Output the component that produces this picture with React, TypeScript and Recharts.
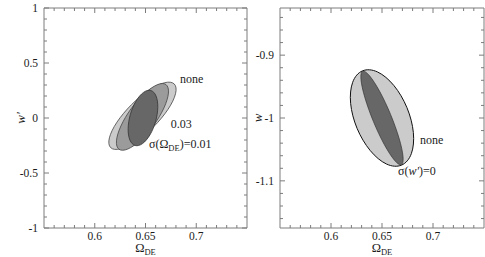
import { ScatterChart, Scatter, XAxis, YAxis } from 'recharts'

// ── data ──────────────────────────────────────────────────────
// Ω_DE axis (both panels)
const omegaTicks = [0.56, 0.57, 0.58, 0.59, 0.6, 0.61, 0.62, 0.63, 0.64, 0.65, 0.66, 0.67, 0.68, 0.69, 0.7, 0.71, 0.72, 0.73, 0.74]
const omegaLabels = [0.6, 0.65, 0.7]

// w' axis (left panel)
const wPrimeTicks = [-1, -0.9, -0.8, -0.7, -0.6, -0.5, -0.4, -0.3, -0.2, -0.1, 0, 0.1, 0.2, 0.3, 0.4, 0.5, 0.6, 0.7, 0.8, 0.9, 1]
const wPrimeLabels = [-1, -0.5, 0, 0.5, 1]

// w axis (right panel)
const wTicks = [-1.16, -1.14, -1.12, -1.1, -1.08, -1.06, -1.04, -1.02, -1, -0.98, -0.96, -0.94, -0.92, -0.9, -0.88, -0.86, -0.84]
const wLabels = [-1.1, -1, -0.9]

// contour control points [Ω_DE, w'] — left panel
const leftNone: [number, number][] = [
  [0.6798, 0.3227], [0.6697, 0.3346], [0.6535, 0.2623], [0.6356, 0.125],
  [0.6207, -0.0405], [0.6129, -0.1896], [0.6142, -0.2827], [0.6243, -0.2946],
  [0.6405, -0.2223], [0.6584, -0.085], [0.6733, 0.0805], [0.6811, 0.2296],
]
const leftPrior003: [number, number][] = [
  [0.6712, 0.3179], [0.6622, 0.3158], [0.649, 0.2318], [0.6353, 0.0883],
  [0.6248, -0.0761], [0.6202, -0.2174], [0.6228, -0.2979], [0.6319, -0.2958],
  [0.645, -0.2118], [0.6587, -0.0683], [0.6692, 0.0961], [0.6738, 0.2374],
]
const leftPrior001: [number, number][] = [
  [0.6556, 0.2616], [0.6481, 0.2437], [0.6403, 0.1606], [0.6345, 0.0344],
  [0.6322, -0.101], [0.634, -0.2093], [0.6394, -0.2616], [0.647, -0.2437],
  [0.6547, -0.1606], [0.6605, -0.0344], [0.6628, 0.101], [0.661, 0.2093],
]

// contour control points [Ω_DE, w] — right panel
const rightNone: [number, number][] = [
  [0.63, -0.9215], [0.6199, -0.9406], [0.6178, -0.9757], [0.6244, -1.0172],
  [0.6379, -1.0541], [0.6545, -1.0766], [0.67, -1.0785], [0.6801, -1.0594],
  [0.6822, -1.0243], [0.6756, -0.9828], [0.6622, -0.9459], [0.6455, -0.9234],
]
const rightFixed: [number, number][] = [
  [0.6302, -0.9223], [0.6284, -0.9357], [0.6325, -0.9663], [0.6412, -1.0059],
  [0.6523, -1.044], [0.6628, -1.0703], [0.6698, -1.0777], [0.6716, -1.0643],
  [0.6675, -1.0337], [0.6588, -0.9941], [0.6477, -0.956], [0.6372, -0.9297],
]

// where the curve labels sit
const noteLeftNone: [number, number] = [0.684, 0.321]
const noteLeft003: [number, number] = [0.6748, -0.088]
const noteLeft001: [number, number] = [0.6534, -0.27]
const noteRightNone: [number, number] = [0.6872, -1.0414]
const noteRightFixed: [number, number] = [0.6656, -1.0907]
// ──────────────────────────────────────────────────────────────

const FRAME = '#7c7c7c'
const INK = '#1c1c1c'
const FONT = 'Liberation Serif, "Times New Roman", "DejaVu Serif", serif'
const LIGHT = '#cbcbcb'
const MID = '#9b9b9b'
const DARK = '#676767'

const pts = (arr: [number, number][]) => arr.map(([x, y]) => ({ x, y }))
const noDot = () => <g />

// inward tick + optional label; the axis title hangs off the middle tick
function Tick(props: any) {
  const { x, y, payload, majors, side, showLabel, titleAt, title, gap } = props
  const v = payload.value
  const major = majors.includes(v)
  const len = major ? 5 : 3
  const txt = { fontFamily: FONT, fill: INK, style: { fontFamily: FONT } }
  let line
  if (side === 'bottom') line = <line x1={x} x2={x} y1={y} y2={y - len} stroke={FRAME} />
  else if (side === 'top') line = <line x1={x} x2={x} y1={y} y2={y + len} stroke={FRAME} />
  else if (side === 'left') line = <line x1={x} x2={x + len} y1={y} y2={y} stroke={FRAME} />
  else line = <line x1={x} x2={x - len} y1={y} y2={y} stroke={FRAME} />

  let label = null
  if (showLabel && major) {
    label =
      side === 'bottom' ? (
        <text x={x} y={y + 12} textAnchor="middle" fontSize={11.5} {...txt}>
          {String(v)}
        </text>
      ) : (
        <text x={x - 6} y={y + 4} textAnchor="end" fontSize={11.5} {...txt}>
          {String(v)}
        </text>
      )
  }

  let axisTitle = null
  if (title && v === titleAt) {
    if (side === 'bottom') {
      axisTitle = (
        <text x={x} y={y + 24} textAnchor="middle" fontSize={12.5} {...txt}>
          Ω<tspan fontSize={8.5} dy={3}>DE</tspan>
        </text>
      )
    } else {
      const tx = x - gap
      axisTitle = (
        <text
          x={tx}
          y={y}
          transform={`rotate(-90 ${tx} ${y})`}
          textAnchor="middle"
          fontSize={13}
          fontStyle="italic"
          {...txt}
        >
          {title}
        </text>
      )
    }
  }

  return (
    <g>
      {line}
      {label}
      {axisTitle}
    </g>
  )
}

const noteShape = (content: any) => (p: any) => (
  <text x={p.cx} y={p.cy} fontSize={12} fontFamily={FONT} style={{ fontFamily: FONT }} fill={INK}>
    {content}
  </text>
)

export default function App() {
  const common = {
    tickSize: 0,
    tickMargin: 0,
    tickLine: false,
    interval: 0 as const,
    allowDataOverflow: true,
    axisLine: { stroke: FRAME },
  }
  return (
    <div style={{ position: 'absolute', left: 0, top: 0, width: 485, height: 257, background: '#fff' }}>
      <div style={{ position: 'absolute', left: 0, top: 0 }}>
        <ScatterChart width={250} height={257} margin={{ top: 7, right: 2, bottom: 0, left: 0 }}>
          <XAxis
            type="number"
            dataKey="x"
            domain={[0.55, 0.75]}
            ticks={omegaTicks}
            height={29}
            {...common}
            tick={<Tick side="bottom" majors={omegaLabels} showLabel titleAt={0.65} title="Ω" />}
          />
          <XAxis
            xAxisId="top"
            orientation="top"
            type="number"
            dataKey="x"
            domain={[0.55, 0.75]}
            ticks={omegaTicks}
            height={1}
            {...common}
            tick={<Tick side="top" majors={omegaLabels} />}
          />
          <YAxis
            type="number"
            dataKey="y"
            domain={[-1, 1]}
            ticks={wPrimeTicks}
            width={44}
            {...common}
            tick={<Tick side="left" majors={wPrimeLabels} showLabel titleAt={0} title="w′" gap={19} />}
          />
          <YAxis
            yAxisId="right"
            orientation="right"
            type="number"
            dataKey="y"
            domain={[-1, 1]}
            ticks={wPrimeTicks}
            width={1}
            {...common}
            tick={<Tick side="right" majors={wPrimeLabels} />}
          />
          <Scatter xAxisId="top" yAxisId="right" data={pts(leftNone)} shape={noDot} isAnimationActive={false} />
          <Scatter
            data={pts(leftNone)}
            line={{ fill: LIGHT, stroke: '#444', strokeWidth: 0.8 }}
            lineJointType="basisClosed"
            shape={noDot}
            isAnimationActive={false}
          />
          <Scatter
            data={pts(leftPrior003)}
            line={{ fill: MID, stroke: '#444', strokeWidth: 0.8 }}
            lineJointType="basisClosed"
            shape={noDot}
            isAnimationActive={false}
          />
          <Scatter
            data={pts(leftPrior001)}
            line={{ fill: DARK, stroke: '#333', strokeWidth: 0.8 }}
            lineJointType="basisClosed"
            shape={noDot}
            isAnimationActive={false}
          />
          <Scatter data={pts([noteLeftNone])} shape={noteShape('none')} isAnimationActive={false} />
          <Scatter data={pts([noteLeft003])} shape={noteShape('0.03')} isAnimationActive={false} />
          <Scatter
            data={pts([noteLeft001])}
            shape={noteShape(
              <>
                σ(Ω<tspan fontSize={8.5} dy={3}>DE</tspan>
                <tspan dy={-3}>)=0.01</tspan>
              </>
            )}
            isAnimationActive={false}
          />
        </ScatterChart>
      </div>
      <div style={{ position: 'absolute', left: 250, top: 0 }}>
        <ScatterChart width={235} height={257} margin={{ top: 7, right: 0, bottom: 0, left: 0 }}>
          <XAxis
            type="number"
            dataKey="x"
            domain={[0.55, 0.75]}
            ticks={omegaTicks}
            height={29}
            {...common}
            tick={<Tick side="bottom" majors={omegaLabels} showLabel titleAt={0.65} title="Ω" />}
          />
          <XAxis
            xAxisId="top"
            orientation="top"
            type="number"
            dataKey="x"
            domain={[0.55, 0.75]}
            ticks={omegaTicks}
            height={1}
            {...common}
            tick={<Tick side="top" majors={omegaLabels} />}
          />
          <YAxis
            type="number"
            dataKey="y"
            domain={[-1.175, -0.825]}
            ticks={wTicks}
            width={30}
            {...common}
            tick={<Tick side="left" majors={wLabels} showLabel titleAt={-1} title="w" gap={18} />}
          />
          <YAxis
            yAxisId="right"
            orientation="right"
            type="number"
            dataKey="y"
            domain={[-1.175, -0.825]}
            ticks={wTicks}
            width={1}
            {...common}
            tick={<Tick side="right" majors={wLabels} />}
          />
          <Scatter xAxisId="top" yAxisId="right" data={pts(rightNone)} shape={noDot} isAnimationActive={false} />
          <Scatter
            data={pts(rightNone)}
            line={{ fill: LIGHT, stroke: '#111', strokeWidth: 1 }}
            lineJointType="basisClosed"
            shape={noDot}
            isAnimationActive={false}
          />
          <Scatter
            data={pts(rightFixed)}
            line={{ fill: DARK, stroke: '#333', strokeWidth: 0.7 }}
            lineJointType="basisClosed"
            shape={noDot}
            isAnimationActive={false}
          />
          <Scatter data={pts([noteRightNone])} shape={noteShape('none')} isAnimationActive={false} />
          <Scatter
            data={pts([noteRightFixed])}
            shape={noteShape(
              <>
                σ(<tspan fontStyle="italic">w′</tspan>)=0
              </>
            )}
            isAnimationActive={false}
          />
        </ScatterChart>
      </div>
    </div>
  )
}
